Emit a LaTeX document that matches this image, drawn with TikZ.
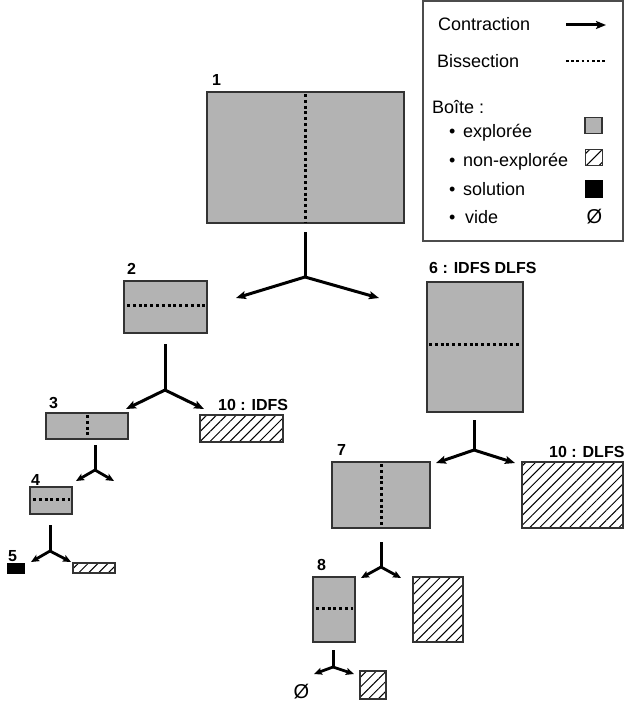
\documentclass[tikz,border=0pt]{standalone}
\usepackage{fontspec}
\setmainfont{Liberation Sans}
\usetikzlibrary{arrows.meta,patterns.meta}
\definecolor{boxgray}{HTML}{B3B3B3}
\definecolor{edgegray}{HTML}{333333}
\tikzset{
  expl/.style={draw=edgegray, fill=boxgray, line width=1.6pt, inner sep=0pt, outer sep=0pt},
  hatch/.style={draw=edgegray, line width=1.6pt, inner sep=0pt, outer sep=0pt,
    pattern={Lines[angle=45,distance=7pt,line width=1pt]}},
  sol/.style={draw=black, fill=black, inner sep=0pt, outer sep=0pt},
  bis/.style={line width=3pt, dash pattern=on 3pt off 2.8pt},
  stem/.style={line width=3pt},
  arr/.style={line width=3pt, -{Stealth[length=10pt,width=8pt,inset=2pt]}},
  sarr/.style={line width=2.8pt, -{Stealth[length=8pt,width=7pt,inset=1.5pt]}},
  lab/.style={anchor=base west, inner sep=0pt, font=\fontsize{16}{18}\selectfont\bfseries},
  leg/.style={anchor=base west, inner sep=0pt, font=\fontsize{18}{20}\selectfont},
}
\begin{document}
\begin{tikzpicture}[x=1pt,y=-1pt]
\useasboundingbox (0,0) rectangle (625,701);
% legend
\node[draw=black!70, line width=1.4pt, minimum width=200pt, minimum height=240pt, inner sep=0pt] (legend) at (523,121) {};
\node[leg] (lc) at (438,31) {Contraction};
\coordinate (la1) at (566,25); \coordinate (la2) at (606,25);
\draw[arr] (la1) -- (la2);
\node[leg] (lb) at (437,67) {Bissection};
\coordinate (ld1) at (566,61); \coordinate (ld2) at (606,61);
\draw[bis, line width=2.6pt, dash pattern=on 2.6pt off 2.6pt] (ld1) -- (ld2);
\node[leg] (lbo) at (432,113) {Boîte :};
\node[leg] (b1l) at (449,137) {•}; \node[leg] (le) at (463,137) {explorée};
\node[leg] (b2l) at (449,166) {•}; \node[leg] (lne) at (463,166) {non-explorée};
\node[leg] (b3l) at (449,195) {•}; \node[leg] (ls) at (463,195) {solution};
\node[leg] (b4l) at (449,223) {•}; \node[leg] (lv) at (465,223) {vide};
\node[expl, line width=1.3pt, minimum width=17pt, minimum height=16pt] (se) at (593.5,125.5) {};
\node[hatch, line width=1.3pt, minimum width=17pt, minimum height=16pt, pattern={Lines[angle=45,distance=9pt,line width=1pt]}] (sne) at (594,157.5) {};
\node[sol, minimum width=17pt, minimum height=17pt] (ss) at (593.5,188.5) {};
\node[anchor=base, inner sep=0pt, font=\fontsize{20}{22}\selectfont] (sv) at (594.5,223) {Ø};

% box 1
\node[expl, minimum width=197pt, minimum height=131pt] (b1) at (305.5,157.5) {};
\draw[bis] (305,94) -- (305,222);
\node[lab] (n1) at (212,85) {1};
\coordinate (t1) at (305,232); \coordinate (k1) at (305,277);
\coordinate (l1) at (236,298); \coordinate (r1) at (379,298);
\draw[stem] (t1) -- (k1); \draw[arr] (k1) -- (l1); \draw[arr] (k1) -- (r1);

% box 2
\node[expl, minimum width=83pt, minimum height=52pt] (b2) at (165.5,307) {};
\draw[bis] (127,305) -- (205,305);
\node[lab] (n2) at (127,274) {2};
\coordinate (t2) at (165,344); \coordinate (k2) at (165,390);
\coordinate (l2) at (126,409); \coordinate (r2) at (204,409);
\draw[stem] (t2) -- (k2); \draw[arr] (k2) -- (l2); \draw[arr] (k2) -- (r2);

% box 6
\node[expl, minimum width=96pt, minimum height=130pt] (b6) at (475,347) {};
\draw[bis] (429,344) -- (521,344);
\node[lab] (n6) at (429,273) {6 : IDFS DLFS};
\coordinate (t6) at (474,420); \coordinate (k6) at (474,450);
\coordinate (l6) at (436,463); \coordinate (r6) at (515,463);
\draw[stem] (t6) -- (k6); \draw[arr] (k6) -- (l6); \draw[arr] (k6) -- (r6);

% box 3
\node[expl, minimum width=82pt, minimum height=26pt] (b3) at (87,426) {};
\draw[bis] (87,415) -- (87,438);
\node[lab] (n3) at (49,408) {3};
\coordinate (t3) at (95,445); \coordinate (k3) at (95,470);
\coordinate (l3) at (76,481); \coordinate (r3) at (114,481);
\draw[stem] (t3) -- (k3); \draw[sarr] (k3) -- (l3); \draw[sarr] (k3) -- (r3);

% box 10 IDFS
\node[hatch, minimum width=83pt, minimum height=27pt] (b10a) at (241.5,428.5) {};
\node[lab] (n10a) at (218,410) {10 : IDFS};

% box 4
\node[expl, minimum width=42pt, minimum height=27pt] (b4) at (51,500.5) {};
\draw[bis] (33,499) -- (70,499);
\node[lab] (n4) at (31,485) {4};
\coordinate (t4) at (50,525); \coordinate (k4) at (50,551);
\coordinate (l4) at (31,562); \coordinate (r4) at (71,562);
\draw[stem] (t4) -- (k4); \draw[sarr] (k4) -- (l4); \draw[sarr] (k4) -- (r4);

% box 5 and sibling
\node[sol, minimum width=17pt, minimum height=10pt] (b5) at (15.5,568) {};
\node[lab] (n5) at (8,561) {5};
\node[hatch, line width=1.3pt, minimum width=42pt, minimum height=10pt] (b9) at (94,568) {};

% box 7
\node[expl, minimum width=98pt, minimum height=66pt] (b7) at (381,495) {};
\draw[bis] (381,464) -- (381,526);
\node[lab] (n7) at (337,455) {7};
\coordinate (t7) at (381,542); \coordinate (k7) at (381,567);
\coordinate (l7) at (361,578); \coordinate (r7) at (401,578);
\draw[stem] (t7) -- (k7); \draw[sarr] (k7) -- (l7); \draw[sarr] (k7) -- (r7);

% box 10 DLFS
\node[hatch, minimum width=101pt, minimum height=66pt] (b10b) at (572.5,495) {};
\node[lab] (n10b) at (549,457) {10 : DLFS};

% box 8
\node[expl, minimum width=42pt, minimum height=65pt] (b8) at (334,609.5) {};
\draw[bis] (316,608) -- (353,608);
\node[lab] (n8) at (317,570) {8};
\coordinate (t8) at (333,650); \coordinate (k8) at (333,667);
\coordinate (l8) at (314,674); \coordinate (r8) at (354,674);
\draw[stem] (t8) -- (k8); \draw[sarr] (k8) -- (l8); \draw[sarr] (k8) -- (r8);

% hatched sibling of 8
\node[hatch, minimum width=50pt, minimum height=65pt] (b11) at (438,609.5) {};

% children of 8
\node[anchor=base, inner sep=0pt, font=\fontsize{20}{22}\selectfont] (vide) at (301.5,698) {Ø};
\node[hatch, line width=1.3pt, minimum width=26pt, minimum height=28pt] (b12) at (373,685) {};
\end{tikzpicture}
\end{document}
